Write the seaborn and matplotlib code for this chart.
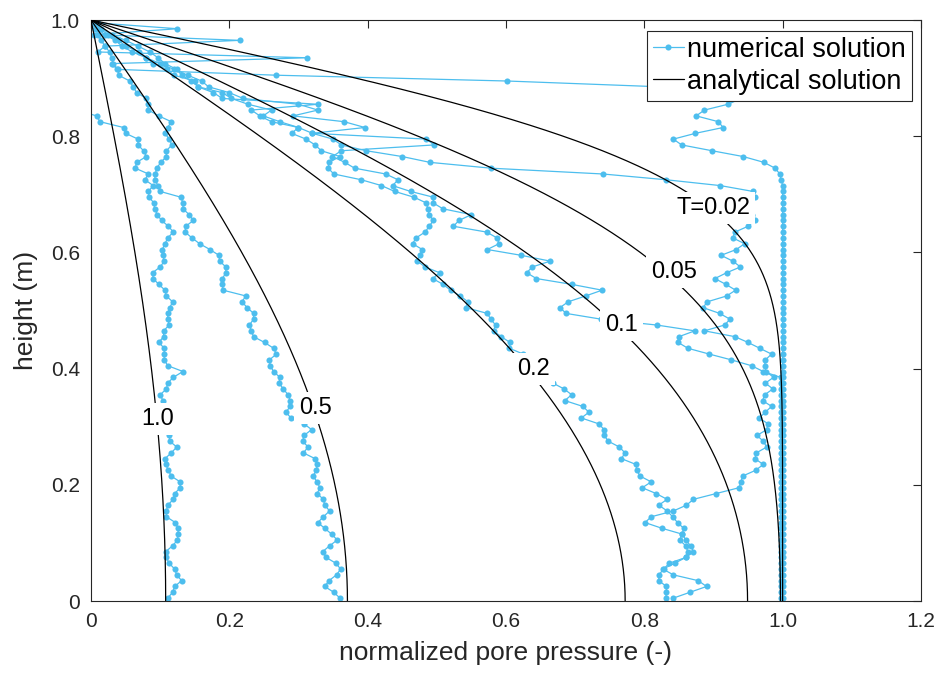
import numpy as np
import pandas as pd
import matplotlib
matplotlib.use("Agg")
import matplotlib.pyplot as plt
from matplotlib.lines import Line2D
import seaborn as sns

sns.set_theme(style="white")
plt.rcParams["font.family"] = ["Liberation Sans", "DejaVu Sans"]

# ---- data -----------------------------------------------------------------
time_factors = [0.02, 0.05, 0.1, 0.2, 0.5, 1.0]
contour_text = ["T=0.02", "0.05", "0.1", "0.2", "0.5", "1.0"]
contour_x = [0.900, 0.843, 0.767, 0.640, 0.324, 0.097]
contour_h = [0.676, 0.567, 0.475, 0.399, 0.332, 0.313]

x_ticks = [0, 0.2, 0.4, 0.6, 0.8, 1.0, 1.2]
x_tick_labels = ["0", "0.2", "0.4", "0.6", "0.8", "1.0", "1.2"]
y_ticks = [0, 0.2, 0.4, 0.6, 0.8, 1.0]
y_tick_labels = ["0", "0.2", "0.4", "0.6", "0.8", "1.0"]

# node heights of the numerical model (cell centres)
node_height = np.round(np.arange(0.005, 1.0, 0.01), 3)

p_T002 = [1.0] * 72 + [
    0.998, 0.996, 0.989, 0.973, 0.943, 0.898, 0.854, 0.842,
    0.874, 0.914, 0.907, 0.875, 0.887, 0.921, 0.940, 0.950, 0.824, 0.602,
    0.268, 0.038, 0.030, 0.313, 0.010, 0.020, 0.215, 0.005, 0.125, 0.010]

p_T005 = [
    0.831, 0.832, 0.832, 0.821, 0.821, 0.828, 0.836, 0.860, 0.863, 0.860,
    0.851, 0.855, 0.826, 0.801, 0.810, 0.842, 0.861, 0.871, 0.904, 0.937,
    0.940, 0.942, 0.961, 0.972, 0.960, 0.962, 0.977, 0.972, 0.963, 0.977,
    0.979, 0.966, 0.975, 0.984, 0.971, 0.974, 0.986, 0.975, 0.987, 0.976,
    0.974, 0.975, 0.984, 0.967, 0.950, 0.931, 0.887, 0.916, 0.924, 0.909,
    0.885, 0.891, 0.919, 0.932, 0.918, 0.902, 0.919, 0.939, 0.928, 0.911,
    0.933, 0.945, 0.928, 0.931, 0.950, 0.960, 0.955, 0.945, 0.950, 0.960,
    0.957, 0.910, 0.832, 0.740, 0.578, 0.490, 0.450, 0.398, 0.362, 0.350,
    0.320, 0.396, 0.366, 0.292, 0.328, 0.300, 0.220, 0.200, 0.170, 0.160,
    0.140, 0.120, 0.100, 0.080, 0.070, 0.050, 0.040, 0.025, 0.012, 0.004]

p_T01 = [0.997] * 39 + [
    0.972, 0.955, 0.926, 0.894, 0.863, 0.849, 0.850, 0.873, 0.818, 0.738,
    0.687, 0.678, 0.690, 0.715, 0.739, 0.695, 0.644, 0.630, 0.638, 0.664,
    0.622, 0.573, 0.590, 0.587, 0.572, 0.524, 0.532, 0.550, 0.509, 0.495,
    0.495, 0.462, 0.436, 0.444, 0.426, 0.381, 0.367, 0.349, 0.362, 0.496,
    0.485, 0.320, 0.300, 0.261, 0.244, 0.232, 0.328, 0.190, 0.177, 0.155,
    0.150, 0.120, 0.110, 0.090, 0.080, 0.060, 0.045, 0.035, 0.020, 0.010,
    0.003]

p_T02 = [
    0.842, 0.866, 0.890, 0.878, 0.842, 0.827, 0.844, 0.860, 0.871, 0.867,
    0.860, 0.855, 0.857, 0.848, 0.841, 0.833, 0.821, 0.833, 0.817, 0.797,
    0.810, 0.794, 0.789, 0.788, 0.767, 0.772, 0.764, 0.748, 0.742, 0.742,
    0.734, 0.709, 0.720, 0.711, 0.685, 0.695, 0.684, 0.668, 0.660, 0.652,
    0.645, 0.635, 0.625, 0.605, 0.606, 0.593, 0.582, 0.585, 0.578, 0.573,
    0.542, 0.545, 0.534, 0.520, 0.509, 0.494, 0.504, 0.483, 0.472, 0.475,
    0.479, 0.465, 0.470, 0.483, 0.489, 0.495, 0.489, 0.487, 0.485, 0.467,
    0.439, 0.420, 0.391, 0.351, 0.343, 0.344, 0.360, 0.333, 0.324, 0.311,
    0.290, 0.300, 0.273, 0.249, 0.261, 0.227, 0.203, 0.190, 0.155, 0.145,
    0.131, 0.124, 0.107, 0.097, 0.085, 0.068, 0.050, 0.030, 0.015, 0.005]

p_T05 = [
    0.360, 0.351, 0.338, 0.344, 0.355, 0.361, 0.354, 0.340, 0.335, 0.345,
    0.356, 0.348, 0.338, 0.328, 0.336, 0.345, 0.338, 0.336, 0.327, 0.331,
    0.327, 0.321, 0.326, 0.327, 0.324, 0.307, 0.314, 0.306, 0.308, 0.319,
    0.308, 0.289, 0.282, 0.288, 0.288, 0.285, 0.278, 0.272, 0.273, 0.264,
    0.259, 0.258, 0.268, 0.264, 0.251, 0.235, 0.232, 0.229, 0.235, 0.235,
    0.226, 0.218, 0.224, 0.191, 0.190, 0.190, 0.195, 0.195, 0.186, 0.185,
    0.172, 0.157, 0.146, 0.136, 0.137, 0.148, 0.142, 0.133, 0.133, 0.130,
    0.100, 0.097, 0.092, 0.093, 0.095, 0.101, 0.109, 0.109, 0.117, 0.113,
    0.107, 0.111, 0.116, 0.098, 0.083, 0.082, 0.080, 0.066, 0.061, 0.056,
    0.040, 0.039, 0.032, 0.030, 0.027, 0.020, 0.015, 0.010, 0.006, 0.002]

p_T10 = [
    0.111, 0.118, 0.121, 0.131, 0.124, 0.121, 0.113, 0.109, 0.108, 0.118,
    0.125, 0.126, 0.126, 0.122, 0.109, 0.109, 0.111, 0.119, 0.121, 0.129,
    0.129, 0.116, 0.112, 0.108, 0.107, 0.116, 0.124, 0.114, 0.113, 0.117,
    0.120, 0.113, 0.108, 0.110, 0.104, 0.100, 0.109, 0.111, 0.119, 0.133,
    0.111, 0.106, 0.106, 0.106, 0.098, 0.105, 0.105, 0.113, 0.111, 0.111,
    0.114, 0.118, 0.109, 0.107, 0.098, 0.090, 0.089, 0.100, 0.106, 0.104,
    0.103, 0.107, 0.111, 0.119, 0.112, 0.102, 0.096, 0.092, 0.091, 0.084,
    0.083, 0.090, 0.078, 0.083, 0.064, 0.066, 0.080, 0.076, 0.068, 0.068,
    0.050, 0.047, 0.013, 0.008, -0.020]

numerical = {0.02: p_T002, 0.05: p_T005, 0.1: p_T01,
             0.2: p_T02, 0.5: p_T05, 1.0: p_T10}

# ---- tables ---------------------------------------------------------------
num_rows = []
for t, vals in numerical.items():
    for h, p in zip(node_height, vals):
        num_rows.append({"T": t, "pressure": p, "height": h})
num_df = pd.DataFrame(num_rows)


def terzaghi(height, t, n_terms=200):
    """Normalized excess pore pressure, drained top (h=1), sealed base (h=0)."""
    z = 1.0 - height
    u = np.zeros_like(height)
    for m in range(n_terms):
        M = np.pi * (2 * m + 1) / 2.0
        u += 2.0 / M * np.sin(M * z) * np.exp(-M * M * t)
    return u


h_fine = np.linspace(0.0, 1.0, 801)
ana_df = pd.concat(
    [pd.DataFrame({"T": t, "pressure": terzaghi(h_fine, t), "height": h_fine})
     for t in time_factors],
    ignore_index=True)

# ---- figure ---------------------------------------------------------------
blue = "#4DBEEE"
axis_color = "#262626"

fig = plt.figure(figsize=(9.41, 6.74), dpi=100)
ax = fig.add_axes([0.0967, 0.1083, 0.8820, 0.8620])

sns.lineplot(data=num_df, x="pressure", y="height", units="T",
             estimator=None, sort=False, color=blue, lw=0.9,
             marker="o", markersize=4.4, markeredgewidth=0,
             ax=ax, zorder=2, legend=False)
sns.lineplot(data=ana_df, x="pressure", y="height", units="T",
             estimator=None, sort=False, color="black", lw=0.9,
             ax=ax, zorder=3, legend=False)

for txt, cx, ch in zip(contour_text, contour_x, contour_h):
    ax.text(cx, ch, txt, ha="center", va="center", fontsize=17,
            color="black", zorder=5,
            bbox=dict(facecolor="white", edgecolor="none", pad=3.5))

ax.set_xlim(0, 1.2)
ax.set_ylim(0, 1.0)
ax.set_xticks(x_ticks)
ax.set_xticklabels(x_tick_labels)
ax.set_yticks(y_ticks)
ax.set_yticklabels(y_tick_labels)
ax.tick_params(direction="in", top=True, right=True, length=6, width=0.8,
               colors=axis_color, labelsize=15, labelcolor=axis_color, pad=8)
for sp in ax.spines.values():
    sp.set_visible(True)
    sp.set_color(axis_color)
    sp.set_linewidth(0.8)

ax.set_xlabel("normalized pore pressure (-)", fontsize=19, color=axis_color,
              labelpad=7)
ax.set_ylabel("height (m)", fontsize=19, color=axis_color, labelpad=9)

handles = [
    Line2D([], [], color=blue, lw=0.9, marker="o", markersize=4.4,
           markeredgewidth=0),
    Line2D([], [], color="black", lw=0.9),
]
leg = ax.legend(handles, ["numerical solution", "analytical solution"],
                loc="upper right", bbox_to_anchor=(0.9888, 0.9816),
                borderaxespad=0, fontsize=19.5, frameon=True, fancybox=False,
                framealpha=1, edgecolor=axis_color, handlelength=1.15,
                handletextpad=0.12, borderpad=0.22, labelspacing=0.22)
leg.get_frame().set_linewidth(0.8)
leg.set_zorder(6)
for t in leg.get_texts():
    t.set_color("black")

fig.savefig("out.png", dpi=100)
